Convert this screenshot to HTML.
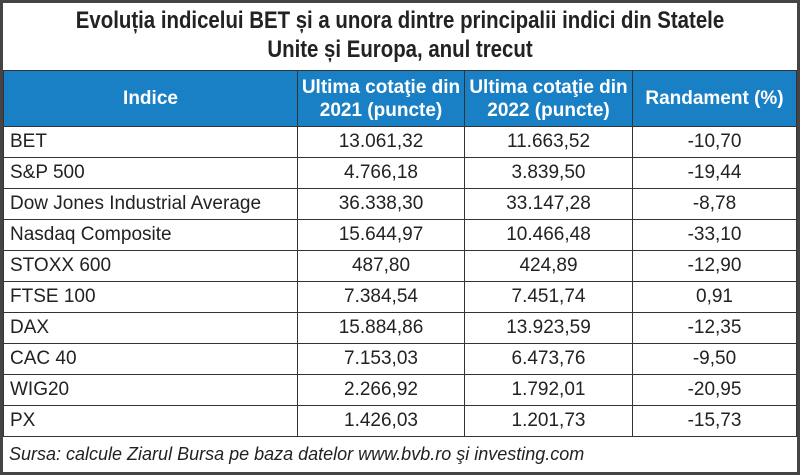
<!DOCTYPE html>
<html><head><meta charset="utf-8"><style>
body{margin:0;background:#fff}
#wrap{position:absolute;left:0;top:0;width:794px;height:469px;border:3px solid #444;font-family:"Liberation Sans",sans-serif;background:#fff}
#title{height:67px;text-align:center;font-weight:bold;font-size:24px;line-height:29px;color:#222;padding-top:3px;box-sizing:border-box;transform:scaleX(.85);transform-origin:center}
table{border-collapse:collapse;width:794px;table-layout:fixed}
td,th{border:1.5px solid #333;font-size:19px;color:#222;height:30px;padding:0;text-align:center}
th{background:#1a80c6;color:#fff;font-weight:bold;height:55px;line-height:23px;border-color:#333}
td.n{text-align:left;padding-left:6px}
#src{font-style:italic;font-size:18px;color:#222;padding:6px 6px;line-height:22px}
</style></head><body>
<div id="wrap">
<div id="title">Evoluția indicelui BET și a unora dintre principalii indici din Statele<br>Unite și Europa, anul trecut</div>
<table>
<colgroup><col style="width:294px"><col style="width:167px"><col style="width:168px"><col></colgroup>
<thead><tr>
<th>Indice</th>
<th>Ultima cotaţie din<br>2021 (puncte)</th>
<th>Ultima cotaţie din<br>2022 (puncte)</th>
<th>Randament (%)</th></tr></thead>
<tbody id="tb"></tbody></table>
<div id="src">Sursa: calcule Ziarul Bursa pe baza datelor www.bvb.ro şi investing.com</div>
</div>
<script>
const names=["BET","S&P 500","Dow Jones Industrial Average","Nasdaq Composite","STOXX 600","FTSE 100","DAX","CAC 40","WIG20","PX"];
const v2021=["13.061,32","4.766,18","36.338,30","15.644,97","487,80","7.384,54","15.884,86","7.153,03","2.266,92","1.426,03"];
const v2022=["11.663,52","3.839,50","33.147,28","10.466,48","424,89","7.451,74","13.923,59","6.473,76","1.792,01","1.201,73"];
const ret=["-10,70","-19,44","-8,78","-33,10","-12,90","0,91","-12,35","-9,50","-20,95","-15,73"];
const tb=document.getElementById('tb');
names.forEach((n,i)=>{
 const tr=document.createElement('tr');
 
 
 [n,v2021[i],v2022[i],ret[i]].forEach((t,j)=>{
  const td=document.createElement('td');
  
  
  if(j===0)td.className='n';
  td.textContent=t;tr.appendChild(td);
 });
 tb.appendChild(tr);
});
</script>
</body></html>
